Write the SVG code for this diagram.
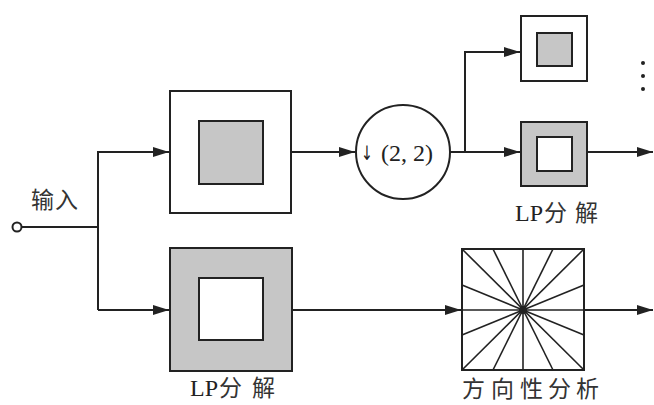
<svg xmlns="http://www.w3.org/2000/svg" width="654" height="405" viewBox="0 0 654 405">
<style>
.ln{stroke:#222;stroke-width:2;fill:none}
.box{stroke:#222;stroke-width:2}
.w{fill:#fff}
.g{fill:#c6c6c6}
.t{font-family:"Liberation Serif","Noto Sans CJK SC",serif;font-size:24px;fill:#222}
.c{font-family:"Noto Sans CJK SC","Liberation Serif",sans-serif;font-size:23px;fill:#333}
.ar{font-family:"DejaVu Sans","DejaVu Serif",sans-serif;font-size:20px;fill:#222}
.ray{stroke:#222;stroke-width:1.6}
</style>
<defs>
<marker id="ah" markerUnits="userSpaceOnUse" markerWidth="16" markerHeight="10" refX="16" refY="5" orient="auto">
<path d="M0,0 L16,5 L0,10 Z" fill="#222"/>
</marker>
</defs>
<rect width="654" height="405" fill="#fff"/>
<g id="connectors">
<line class="ln" x1="22" y1="227" x2="98" y2="227"/>
<polyline class="ln" points="98,310 98,152 169,152" marker-end="url(#ah)"/>
<line class="ln" x1="98" y1="310" x2="169" y2="310" marker-end="url(#ah)"/>
<line class="ln" x1="291" y1="152" x2="355" y2="152" marker-end="url(#ah)"/>
<line class="ln" x1="450" y1="152" x2="520" y2="152" marker-end="url(#ah)"/>
<polyline class="ln" points="465,152 465,52 520,52" marker-end="url(#ah)"/>
<line class="ln" x1="587" y1="152" x2="653" y2="152" marker-end="url(#ah)"/>
<line class="ln" x1="292" y1="310" x2="461" y2="310" marker-end="url(#ah)"/>
<line class="ln" x1="584" y1="310" x2="653" y2="310" marker-end="url(#ah)"/>
</g>
<g id="input">
<circle cx="17" cy="227" r="4.5" fill="#fff" stroke="#222" stroke-width="2"/>
<text class="c" y="208" font-size="24"><tspan x="31">输</tspan><tspan x="55">入</tspan></text>
</g>
<g id="box-top">
<rect class="box w" x="170" y="91" width="121" height="122"/>
<rect class="box g" x="199" y="121" width="64" height="63"/>
</g>
<g id="downsample">
<circle cx="403" cy="152" r="47" fill="#fff" stroke="#222" stroke-width="2"/>
<text class="ar" x="361" y="160" textLength="12" lengthAdjust="spacingAndGlyphs">↓</text>
<text class="t" x="381" y="161" font-size="26">(2, 2)</text>
</g>
<g id="box-small-top">
<rect class="box w" x="521" y="16" width="66" height="65"/>
<rect class="box g" x="537" y="33" width="35" height="33"/>
</g>
<g id="box-small-lp">
<rect class="box g" x="521" y="122" width="66" height="64"/>
<rect class="box w" x="537" y="137" width="35" height="34"/>
<text class="t" y="221"><tspan x="515">LP</tspan><tspan class="c" x="544">分</tspan><tspan class="c" x="575">解</tspan></text>
</g>
<g id="dots" fill="#222">
<circle cx="643" cy="63" r="2"/>
<circle cx="643" cy="76" r="2"/>
<circle cx="643" cy="89" r="2"/>
</g>
<g id="box-lp">
<rect class="box g" x="170" y="248" width="122" height="123"/>
<rect class="box w" x="199" y="278" width="64" height="62"/>
<text class="t" y="396"><tspan x="190">LP</tspan><tspan class="c" x="219">分</tspan><tspan class="c" x="252">解</tspan></text>
</g>
<g id="directional">
<rect class="box w" x="462" y="249" width="122" height="121"/>
<line class="ray" x1="523" y1="249" x2="523" y2="370"/>
<line class="ray" x1="462" y1="310" x2="584" y2="310"/>
<line class="ray" x1="462" y1="249" x2="584" y2="370"/>
<line class="ray" x1="584" y1="249" x2="462" y2="370"/>
<line class="ray" x1="493" y1="249" x2="553" y2="370"/>
<line class="ray" x1="553" y1="249" x2="493" y2="370"/>
<line class="ray" x1="462" y1="285" x2="584" y2="335"/>
<line class="ray" x1="462" y1="335" x2="584" y2="285"/>
<circle cx="523" cy="310" r="4" fill="#222"/>
<text class="c" y="397"><tspan x="462">方</tspan><tspan x="491">向</tspan><tspan x="520">性</tspan><tspan x="548">分</tspan><tspan x="576">析</tspan></text>
</g>
</svg>
